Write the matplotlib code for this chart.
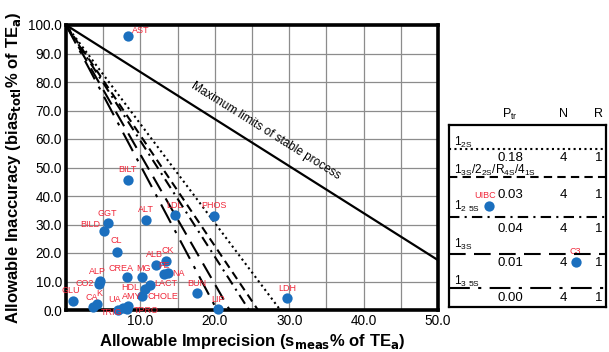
import matplotlib
matplotlib.use("Agg")
import matplotlib.pyplot as plt

plt.rcParams['font.family'] = ['Liberation Sans', 'DejaVu Sans']

# ---- data ----
tests = ["AST", "BILT", "GGT", "BILD", "ALT", "LDL", "PHOS", "CL", "ALB", "CK",
         "FE", "NA", "CREA", "MG", "ALP", "CO2", "GLU", "CA", "K", "HDL", "LACT",
         "CHOLE", "UA", "AMY", "TRIG", "TPRO", "BUN", "LIP", "LDH", "UIBC", "C3"]
imprecision = [8.3, 8.3, 5.6, 5.1, 10.7, 14.65, 19.9, 6.8, 12.1, 13.5,
               13.2, 13.75, 8.2, 10.2, 4.6, 4.4, 0.9, 3.6, 4.1, 10.6, 11.3,
               10.2, 7.6, 8.3, 7.0, 8.2, 17.6, 20.4, 29.7, 56.9, 68.5]
inaccuracy = [96.1, 45.6, 30.4, 27.8, 31.6, 33.3, 33.0, 20.5, 15.8, 17.3,
              12.5, 12.9, 11.5, 11.5, 10.2, 9.1, 3.2, 1.2, 2.1, 7.3, 8.8,
              4.9, 0.6, 1.3, 0.0, 0.4, 5.9, 0.2, 4.1, 36.5, 16.9]

max_limit_x = [0.0, 50.0]
max_limit_y = [100.0, 17.5]

rule_names = [r"$\mathregular{1_{2S}}$",
              r"$\mathregular{1_{3S}/2_{2S}/R_{4S}/4_{1S}}$",
              r"$\mathregular{1_{2\ 5S}}$",
              r"$\mathregular{1_{3S}}$",
              r"$\mathregular{1_{3\ 5S}}$"]
rule_zero_imprecision = [28.8, 25.8, 24.6, 22.0, 20.3]
rule_ptr = ["0.18", "0.03", "0.04", "0.01", "0.00"]
rule_n = ["4", "4", "4", "4", "4"]
rule_r = ["1", "1", "1", "1", "1"]

x_ticks = [10, 20, 30, 40, 50]
y_ticks = [0, 10, 20, 30, 40, 50, 60, 70, 80, 90, 100]

# ---- styles ----
rule_styles = [(0, (1, 1.6)), (0, (4, 2.5)), (0, (5, 2.5, 1, 2.5)),
               (0, (8, 4)), (0, (10, 4, 1.5, 4))]
# label placement: (dx, dy in points, ha, va)
label_pos = {
    "AST": (3, 1, "left", "bottom"), "BILT": (0, 4, "center", "bottom"),
    "GGT": (0, 4, "center", "bottom"), "BILD": (-3, 1, "right", "bottom"),
    "ALT": (0, 4, "center", "bottom"), "LDL": (0, 4, "center", "bottom"),
    "PHOS": (0, 4, "center", "bottom"), "CL": (0, 5, "center", "bottom"),
    "ALB": (-1, 4, "center", "bottom"), "CK": (1, 4, "center", "bottom"),
    "FE": (0, 3, "center", "bottom"), "NA": (3, 0, "left", "center"),
    "CREA": (-4.5, 3, "center", "bottom"), "MG": (1, 3, "center", "bottom"),
    "ALP": (-2, 3.5, "center", "bottom"), "CO2": (-3.5, 0.5, "right", "center"),
    "GLU": (-1, 4, "center", "bottom"), "CA": (-1, 3, "center", "bottom"),
    "K": (2, 4.5, "center", "bottom"), "HDL": (-4, 1.5, "right", "center"),
    "LACT": (3, 1, "left", "center"), "CHOLE": (4, -0.5, "left", "center"),
    "UA": (-6, 3, "center", "bottom"), "AMY": (3, 4, "center", "bottom"),
    "TRIG": (3, -2, "right", "center"), "TPRO": (5, -1.5, "left", "center"),
    "BUN": (0, 4, "center", "bottom"), "LIP": (0, 4, "center", "bottom"),
    "LDH": (0, 4, "center", "bottom"), "UIBC": (-3, 4, "center", "bottom"),
    "C3": (0, 4, "center", "bottom"),
}

fig = plt.figure(figsize=(6.09, 3.52), dpi=100)
ax = fig.add_axes([66/609, 42/352, 372/609, 285/352])

ax.set_xlim(0, 50)
ax.set_ylim(0, 100)
ax.set_xticks(x_ticks)
ax.set_xticks([5, 15, 25, 35, 45], minor=True)
ax.set_xticklabels([f"{v:.1f}" for v in x_ticks])
ax.set_yticks(y_ticks)
ax.set_yticklabels([f"{v:.1f}" for v in y_ticks])
ax.grid(True, which="both", color="#8c8c8c", lw=0.9)
ax.set_axisbelow(True)
ax.tick_params(which="both", length=0, labelsize=9.8, pad=3)
for s in ax.spines.values():
    s.set_linewidth(2.6)
    s.set_color("black")

ax.plot(max_limit_x, max_limit_y, color="black", lw=1.6, zorder=3)
ax.text(26.8, 63.0, "Maximum limits of stable process", rotation=-32,
        rotation_mode="anchor", ha="center", va="center", fontsize=8.5, zorder=3)

for x0, ls in zip(rule_zero_imprecision, rule_styles):
    ax.plot([0, x0], [100, 0], color="black", lw=1.5, linestyle=ls, zorder=3)

ax.scatter(imprecision, inaccuracy, s=55, color="#1B6FBE", zorder=5, clip_on=False,
           linewidths=0)
for name, x, y in zip(tests, imprecision, inaccuracy):
    dx, dy, ha, va = label_pos[name]
    ax.annotate(name, (x, y), xytext=(dx, dy), textcoords="offset points",
                ha=ha, va=va, fontsize=6.5, color="#F0283A", zorder=6,
                annotation_clip=False)

ax.set_xlabel(r"Allowable Imprecision (s$_{\mathbf{meas}}$% of TE$_{\mathbf{a}}$)",
              fontsize=12, fontweight="bold", labelpad=3)
ax.set_ylabel(r"Allowable Inaccuracy (bias$_{\mathbf{totl}}$% of TE$_{\mathbf{a}}$)",
              fontsize=12, fontweight="bold", labelpad=4)

# ---- legend table ----
tab = fig.add_axes([449/609, 45/352, 157/609, 182/352], zorder=0)
tab.set_xlim(0, 1)
tab.set_ylim(0, 1)
tab.set_xticks([])
tab.set_yticks([])
for s in tab.spines.values():
    s.set_linewidth(1.6)
tab.patch.set_alpha(0)

tab.text(0.39, 1.06, r"P$_{\mathregular{tr}}$", ha="center", va="center", fontsize=9)
tab.text(0.73, 1.06, "N", ha="center", va="center", fontsize=9)
tab.text(0.95, 1.06, "R", ha="center", va="center", fontsize=9)

name_y = [0.905, 0.748, 0.553, 0.343, 0.141]
line_y = [0.868, 0.714, 0.493, 0.291, 0.103]
val_y = [0.818, 0.615, 0.429, 0.242, 0.051]
for i in range(5):
    tab.text(0.03, name_y[i], rule_names[i], ha="left", va="center", fontsize=8.6)
    tab.plot([0, 1], [line_y[i], line_y[i]], color="black", lw=1.5,
             linestyle=rule_styles[i])
    tab.text(0.39, val_y[i], rule_ptr[i], ha="center", va="center", fontsize=9.5)
    tab.text(0.73, val_y[i], rule_n[i], ha="center", va="center", fontsize=9.5)
    tab.text(0.955, val_y[i], rule_r[i], ha="center", va="center", fontsize=9.5)

fig.savefig("out.png", dpi=100)
